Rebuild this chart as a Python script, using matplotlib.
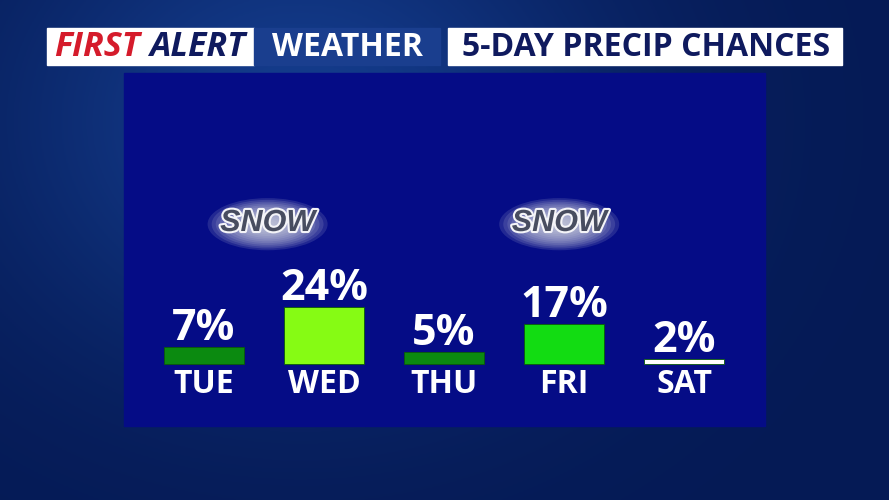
import numpy as np
import matplotlib.pyplot as plt
from matplotlib.patches import Rectangle, Ellipse
import matplotlib.patheffects as pe
from matplotlib import font_manager

days = ['TUE', 'WED', 'THU', 'FRI', 'SAT']
chances = [7, 24, 5, 17, 2]
bar_colors = ['#0b8a10', '#86fb14', '#0b8a10', '#12dc12', '#ffffff']
snow_days = ['WED', 'FRI']

# horizontal shift of the snow badges relative to their day (in bar slots)
snow_shift = {'WED': -0.47, 'FRI': -0.04}

names = {f.name for f in font_manager.fontManager.ttflist}
main_font = 'Open Sans' if 'Open Sans' in names else 'DejaVu Sans'

fig = plt.figure(figsize=(8.89, 5), dpi=100)

# background in pixel coordinates
bg = fig.add_axes([0, 0, 1, 1])
bg.set_xlim(0, 889)
bg.set_ylim(500, 0)
bg.axis('off')
yy, xx = np.mgrid[0:500:2, 0:889:2]
shade = np.exp(-((xx - 300) ** 2 / 9e4 + (yy - 120) ** 2 / 6e4))
c0 = np.array([0x05, 0x1a, 0x55]) / 255
c1 = np.array([0x14, 0x3c, 0x8c]) / 255
img = c0 + (c1 - c0) * shade[..., None]
bg.imshow(img, extent=(0, 889, 500, 0), aspect='auto', zorder=0)

# panel
bg.add_patch(Rectangle((124, 73), 641, 353, color='#050c86', zorder=1))

# header
bg.add_patch(Rectangle((47, 28), 207, 37, color='white', zorder=2))
bg.add_patch(Rectangle((254, 28), 186, 37, color='#1a3e8e', zorder=2))
bg.add_patch(Rectangle((448, 28), 394, 37, color='white', zorder=2))
hkw = dict(fontweight='bold', family=main_font, va='center', zorder=3)
bg.text(54, 47, 'FIRST', color='#d51b2b', style='italic', fontsize=24.5, **hkw)
bg.text(149, 47, 'ALERT', color='#0f1a5e', style='italic', fontsize=24.5, **hkw)
bg.text(347, 47, 'WEATHER', color='white', ha='center', fontsize=23, **hkw)
bg.text(646, 47, '5-DAY PRECIP CHANCES', color='#0f1a5e', ha='center',
        fontsize=23, **hkw)

# bars
ax = fig.add_axes([124 / 889, 74 / 500, 641 / 889, 353 / 500])
ax.set_xlim(-0.6667, 4.675)
ax.set_ylim(-26.16, 122.8)
ax.axis('off')
x = np.arange(len(days))
ax.bar(x, chances, width=0.667, color=bar_colors, edgecolor='#0a5a0a',
       linewidth=0.6, zorder=2)
for i, (d, v) in enumerate(zip(days, chances)):
    ax.annotate(f'{v}%', (i, v), xytext=(0, 7), textcoords='offset pixels',
                ha='center', va='baseline', color='white', fontsize=31,
                fontweight='bold', family=main_font)
    ax.annotate(d, (i, 0), xytext=(0, -29), textcoords='offset pixels',
                ha='center', va='baseline', color='white', fontsize=23,
                fontweight='bold', family=main_font)
    if d in snow_days:
        cx = i + snow_shift[d]
        for k in range(14):
            f = 1 - k / 14
            ax.add_patch(Ellipse((cx, 59), 0.95 * f + 0.05, 21 * f + 1,
                                 color='#d4d8e2', alpha=0.14, lw=0, zorder=3))
        ax.text(cx, 59.5, 'SNOW', ha='center', va='center', fontsize=22,
                fontweight='bold', style='italic', color='#484d60',
                family='Liberation Sans', zorder=4,
                path_effects=[pe.withStroke(linewidth=3, foreground='#f4f4f8')])

fig.savefig('out.png', dpi=100)
